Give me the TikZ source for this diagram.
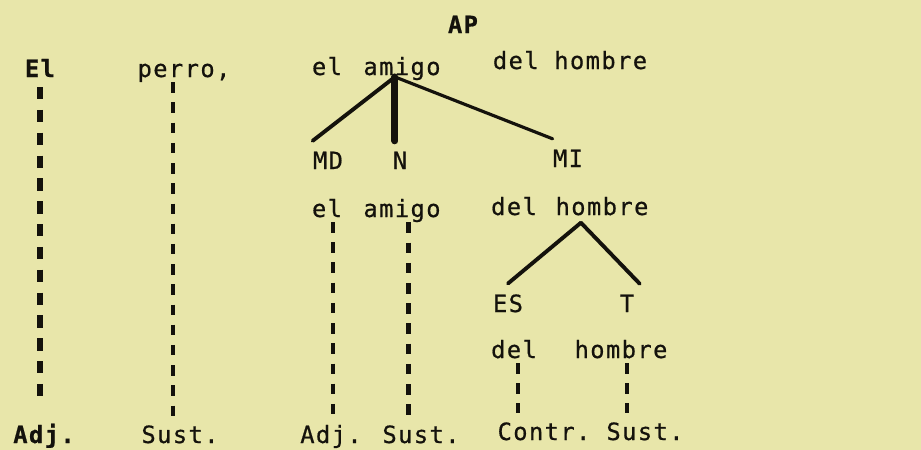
\documentclass[tikz,border=0pt]{standalone}
\usepackage{fontspec}
\newfontfamily\typeface[LetterSpace=6, FakeBold=0.7]{DejaVu Sans Mono}
\newcommand\txtfont{\typeface\fontsize{13.5}{16}\selectfont}
\definecolor{paper}{RGB}{232,230,170}
\definecolor{ink}{RGB}{20,18,12}

\begin{document}
\begin{tikzpicture}[x=0.02cm, y=-0.02cm, every node/.style={font=\txtfont, text=ink, inner sep=0pt, anchor=base}]

    % Define styles
    \tikzstyle{cat} = [inner ysep=6pt]
    \tikzstyle{bold} = [font=\txtfont\bfseries]
    \tikzstyle{branch} = [draw=ink, line width=2.2pt, line cap=round]
    \tikzstyle{dep} = [draw=ink, line width=2.3pt, dash pattern=on 6pt off 5.5pt, shorten <=2.5pt, shorten >=5pt]

    \path[fill=paper, use as bounding box] (0,0) rectangle (921,450);

    % Place nodes
    \node (AP) [bold] at (463,33) {AP};
    \node (ElW) [bold] at (40,77) {El};
    \node (perroW) at (184,77) {perro,};
    \node (elA) at (327,75) {el};
    \node (amigoA) at (402,75) {amigo};
    \node (delhombreA) at (570,69) {del hombre};

    \node (MD) [cat] at (328,169) {MD};
    \node (N) [cat] at (400,169) {N};
    \node (MI) [cat] at (568,167) {MI};

    \node (elB) at (327,217) {el};
    \node (amigoB) at (402,217) {amigo};
    \node (delB) at (514,215) {del};
    \node (hombreB) at (602,215) {hombre};

    \node (ES) [cat] at (508,312) {ES};
    \node (T) [cat] at (627,312) {T};

    \node (delC) at (514,358) {del};
    \node (hombreC) at (621,358) {hombre};

    \node (AdjA) [bold] at (44,443) {Adj.};
    \node (SustA) at (180,443) {Sust.};
    \node (AdjB) at (331,443) {Adj.};
    \node (SustB) at (421,443) {Sust.};
    \node (Contr) at (544,440) {Contr.};
    \node (SustC) at (645,440) {Sust.};

    % Draw branches
    \coordinate (amigoTop) at ([xshift=-4pt,yshift=2pt]amigoA.south);
    \draw[branch] (amigoTop) -- (MD.north west);
    \draw[branch, line width=4pt] (amigoTop) -- (amigoTop |- N.north);
    \draw[branch, line width=1.8pt] (amigoTop) -- (MI.north west);
    \coordinate (hombreTop) at ([xshift=-12pt,yshift=-4pt]hombreB.south);
    \draw[branch] (hombreTop) -- (ES.north);
    \draw[branch] (hombreTop) -- ([xshift=3pt]T.north east);

    % Draw dashed links
    \draw[dep, line width=3.6pt, dash pattern=on 7pt off 6pt, shorten <=5.5pt, shorten >=10pt] (ElW.south) -- (ElW.south |- AdjA.north);
    \draw[dep, shorten <=0pt] ([xshift=-6pt]perroW.south) -- ([xshift=-6pt]perroW.south |- SustA.north);
    \draw[dep] ([xshift=3.4pt]elB.south) -- ([xshift=3.4pt]elB.south |- AdjB.north);
    \draw[dep, shorten <=0pt] ([xshift=3.7pt]amigoB.south) -- ([xshift=3.7pt]amigoB.south |- SustB.north);
    \draw[dep] ([xshift=2.3pt]delC.south) -- ([xshift=2.3pt]delC.south |- Contr.north);
    \draw[dep] ([xshift=3.4pt]hombreC.south) -- ([xshift=3.4pt]hombreC.south |- SustC.north);

\end{tikzpicture}
\end{document}
